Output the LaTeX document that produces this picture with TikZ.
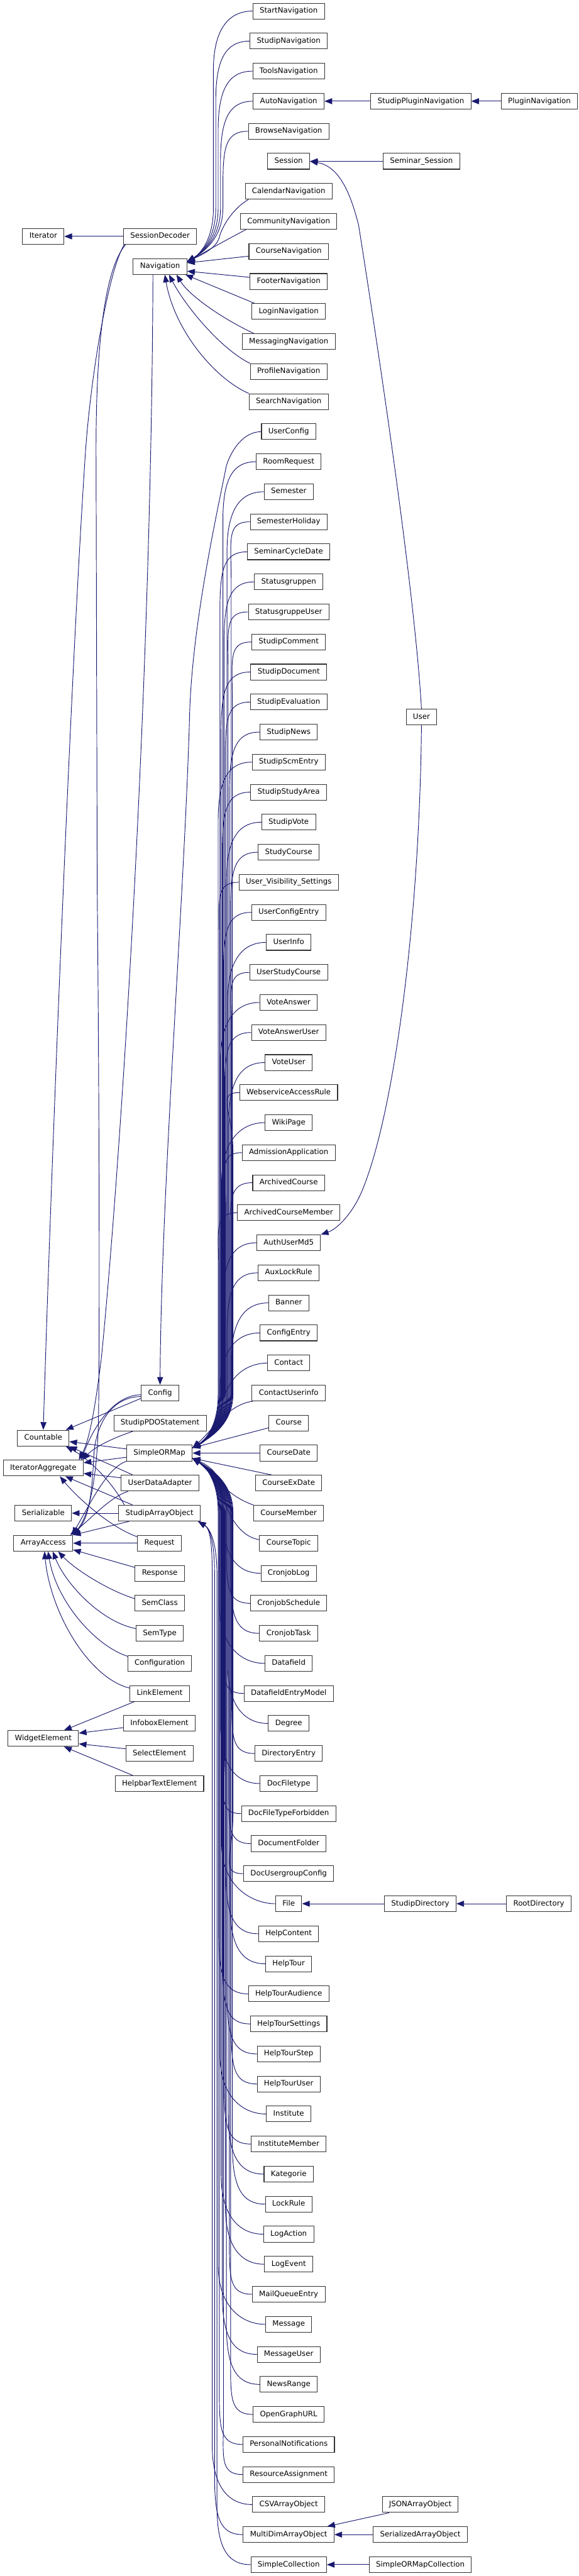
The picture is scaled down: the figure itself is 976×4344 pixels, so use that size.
\documentclass[tikz,border=0pt]{standalone}
\usepackage{fontspec}
\newfontfamily\clsfont{DejaVu Sans}
\usetikzlibrary{arrows.meta,calc}
\definecolor{navy}{HTML}{191970}
\newcommand\rowy[1]{18.7+50.66*(#1-1)}
% bundle edge: child above target
\newcommand\bdown[3]{\draw[inh] let \p1=(#1.west), \p2=(#3) in (\p1) .. controls (\x1-40pt,\y1) and (#2pt,\y1-30pt) .. (#2pt,\y1-100pt) -- (#2pt,\y2+90pt) .. controls (#2pt,\y2+35pt) and (\x2+20pt,\y2+12pt) .. (\p2);}
% bundle edge: child below target
\newcommand\bup[3]{\draw[inh] let \p1=(#1.west), \p2=(#3) in (\p1) .. controls (\x1-40pt,\y1) and (#2pt,\y1+30pt) .. (#2pt,\y1+100pt) -- (#2pt,\y2-90pt) .. controls (#2pt,\y2-35pt) and (\x2+20pt,\y2-12pt) .. (\p2);}
\begin{document}
\begin{tikzpicture}[x=1pt,y=-1pt,
  cls/.style={draw=black!80, line width=1.1pt, fill=white, font=\clsfont\fontsize{12.5}{14}\selectfont,
    inner xsep=11.5pt, inner ysep=0pt, minimum height=26.6pt, text height=9.5pt, text depth=3pt},
  inh/.style={draw=navy, line width=1pt, -{Triangle[length=13pt,width=10pt]}}]
\useasboundingbox (0,0) rectangle (976,4344);

% ---------- middle column ----------
\foreach \nm/\lb [count=\i] in {
StartNavigation/StartNavigation, StudipNavigation/StudipNavigation, ToolsNavigation/ToolsNavigation,
AutoNavigation/AutoNavigation, BrowseNavigation/BrowseNavigation, Session/Session,
CalendarNavigation/CalendarNavigation, CommunityNavigation/CommunityNavigation, CourseNavigation/CourseNavigation,
FooterNavigation/FooterNavigation, LoginNavigation/LoginNavigation, MessagingNavigation/MessagingNavigation,
ProfileNavigation/ProfileNavigation, SearchNavigation/SearchNavigation, UserConfig/UserConfig,
RoomRequest/RoomRequest, Semester/Semester, SemesterHoliday/SemesterHoliday, SeminarCycleDate/SeminarCycleDate,
Statusgruppen/Statusgruppen, StatusgruppeUser/StatusgruppeUser, StudipComment/StudipComment,
StudipDocument/StudipDocument, StudipEvaluation/StudipEvaluation, StudipNews/StudipNews,
StudipScmEntry/StudipScmEntry, StudipStudyArea/StudipStudyArea, StudipVote/StudipVote, StudyCourse/StudyCourse,
UserVisibilitySettings/User\_Visibility\_Settings, UserConfigEntry/UserConfigEntry, UserInfo/UserInfo,
UserStudyCourse/UserStudyCourse, VoteAnswer/VoteAnswer, VoteAnswerUser/VoteAnswerUser, VoteUser/VoteUser,
WebserviceAccessRule/WebserviceAccessRule, WikiPage/WikiPage, AdmissionApplication/AdmissionApplication,
ArchivedCourse/ArchivedCourse, ArchivedCourseMember/ArchivedCourseMember, AuthUserMd5/AuthUserMd5,
AuxLockRule/AuxLockRule, Banner/Banner, ConfigEntry/ConfigEntry, Contact/Contact, ContactUserinfo/ContactUserinfo,
Course/Course, CourseDate/CourseDate, CourseExDate/CourseExDate, CourseMember/CourseMember, CourseTopic/CourseTopic,
CronjobLog/CronjobLog, CronjobSchedule/CronjobSchedule, CronjobTask/CronjobTask, Datafield/Datafield,
DatafieldEntryModel/DatafieldEntryModel, Degree/Degree, DirectoryEntry/DirectoryEntry, DocFiletype/DocFiletype,
DocFileTypeForbidden/DocFileTypeForbidden, DocumentFolder/DocumentFolder, DocUsergroupConfig/DocUsergroupConfig,
File/File, HelpContent/HelpContent, HelpTour/HelpTour, HelpTourAudience/HelpTourAudience,
HelpTourSettings/HelpTourSettings, HelpTourStep/HelpTourStep, HelpTourUser/HelpTourUser, Institute/Institute,
InstituteMember/InstituteMember, Kategorie/Kategorie, LockRule/LockRule, LogAction/LogAction, LogEvent/LogEvent,
MailQueueEntry/MailQueueEntry, Message/Message, MessageUser/MessageUser, NewsRange/NewsRange,
OpenGraphURL/OpenGraphURL, PersonalNotifications/PersonalNotifications, ResourceAssignment/ResourceAssignment,
CSVArrayObject/CSVArrayObject, MultiDimArrayObject/MultiDimArrayObject, SimpleCollection/SimpleCollection}
  {\node[cls] (\nm) at (487,{\rowy{\i}}) {\lb};}

% ---------- right columns ----------
\node[cls] (StudipPluginNavigation) at (710,{\rowy{4}}) {StudipPluginNavigation};
\node[cls] (PluginNavigation) at (910,{\rowy{4}}) {PluginNavigation};
\node[cls] (SeminarSession) at (711,{\rowy{6}}) {Seminar\_Session};
\node[cls] (User) at (711,{\rowy{24.5}}) {User};
\node[cls] (StudipDirectory) at (709,{\rowy{64}}) {StudipDirectory};
\node[cls] (RootDirectory) at (909,{\rowy{64}}) {RootDirectory};
\node[cls] (JSONArrayObject) at (709,{\rowy{84}}) {JSONArrayObject};
\node[cls] (SerializedArrayObject) at (709,{\rowy{85}}) {SerializedArrayObject};
\node[cls] (SimpleORMapCollection) at (709,{\rowy{86}}) {SimpleORMapCollection};

% ---------- left-middle column ----------
\node[cls] (SessionDecoder) at (270,{\rowy{8.5}}) {SessionDecoder};
\node[cls] (Navigation) at (270,{\rowy{9.5}}) {Navigation};
\node[cls] (Config) at (270,{\rowy{47}}) {Config};
\node[cls] (StudipPDOStatement) at (270,{\rowy{48}}) {StudipPDOStatement};
\node[cls] (SimpleORMap) at (269,{\rowy{49}}) {SimpleORMap};
\node[cls] (UserDataAdapter) at (270,{\rowy{50}}) {UserDataAdapter};
\node[cls] (StudipArrayObject) at (269,{\rowy{51}}) {StudipArrayObject};
\node[cls] (Request) at (269,{\rowy{52}}) {Request};
\node[cls] (Response) at (269.5,{\rowy{53}}) {Response};
\node[cls] (SemClass) at (269.5,{\rowy{54}}) {SemClass};
\node[cls] (SemType) at (269.5,{\rowy{55}}) {SemType};
\node[cls] (Configuration) at (269.5,{\rowy{56}}) {Configuration};
\node[cls] (LinkElement) at (269.5,{\rowy{57}}) {LinkElement};
\node[cls] (InfoboxElement) at (269,{\rowy{58}}) {InfoboxElement};
\node[cls] (SelectElement) at (269,{\rowy{59}}) {SelectElement};
\node[cls] (HelpbarTextElement) at (269,{\rowy{60}}) {HelpbarTextElement};

% ---------- left column ----------
\node[cls] (Iterator) at (73,{\rowy{8.5}}) {Iterator};
\node[cls] (Countable) at (73,{\rowy{48.5}}) {Countable};
\node[cls] (IteratorAggregate) at (73,{\rowy{49.5}}) {IteratorAggregate};
\node[cls] (Serializable) at (73,{\rowy{51}}) {Serializable};
\node[cls] (ArrayAccess) at (73,{\rowy{52}}) {ArrayAccess};
\node[cls] (WidgetElement) at (73,{\rowy{58.5}}) {WidgetElement};

% ---------- Navigation children ----------
\bdown{StartNavigation}{360}{$(Navigation.east)+(0,-8)$}
\bdown{StudipNavigation}{364}{$(Navigation.east)+(0,-8)$}
\bdown{ToolsNavigation}{368}{$(Navigation.east)+(0,-8)$}
\bdown{AutoNavigation}{372}{$(Navigation.east)+(0,-8)$}
\bdown{BrowseNavigation}{376}{$(Navigation.east)+(0,-8)$}
\draw[inh] ($(CalendarNavigation.south west)+(6,0)$) .. controls (395,350) and (375,380) .. (370,400) .. controls (365,420) and (335,432) .. ($(Navigation.east)+(0,-8)$);
\draw[inh] ($(CommunityNavigation.south west)+(10,0)$) .. controls (390,400) and (345,425) .. ($(Navigation.east)+(0,-7)$);
\draw[inh] ($(CourseNavigation.west)+(0,8)$) -- ($(Navigation.east)+(0,-6)$);
\draw[inh] ($(FooterNavigation.west)+(0,-7)$) -- ($(Navigation.east)+(0,8)$);
\draw[inh] ($(LoginNavigation.north west)+(5,0)$) -- ($(Navigation.south east)+(-3,0)$);
\draw[inh] ($(MessagingNavigation.north west)+(20,0)$) .. controls (380,540) and (320,500) .. ($(Navigation.south east)+(-18,0)$);
\draw[inh] (ProfileNavigation.north west) .. controls (375,590) and (315,520) .. ($(Navigation.south)+(15,0)$);
\draw[inh] (SearchNavigation.north west) .. controls (365,640) and (295,560) .. ($(Navigation.south)+(8,0)$);

% ---------- right side chains ----------
\draw[inh] (StudipPluginNavigation.west) -- (AutoNavigation.east);
\draw[inh] (PluginNavigation.west) -- (StudipPluginNavigation.east);
\draw[inh] (SeminarSession.west) -- (Session.east);
\draw[inh] (User.north) .. controls (700,1000) and (640,600) .. (605,380) .. controls (590,320) and (570,280) .. (Session.east);
\draw[inh] (User.south) .. controls (708,1550) and (665,1880) .. (610,2010) .. controls (595,2045) and (570,2072) .. (AuthUserMd5.north east);
\draw[inh] (StudipDirectory.west) -- (File.east);
\draw[inh] (RootDirectory.west) -- (StudipDirectory.east);
\draw[inh] ($(JSONArrayObject.south west)+(12,0)$) -- ($(MultiDimArrayObject.north east)+(-12,0)$);
\draw[inh] (SerializedArrayObject.west) -- (MultiDimArrayObject.east);
\draw[inh] (SimpleORMapCollection.west) -- (SimpleCollection.east);

% ---------- UserConfig -> Config ----------
\draw[inh] (UserConfig.west) .. controls (410,728) and (390,760) .. (382,785) .. controls (365,870) and (325,1050) .. (320,1200) .. controls (312,1500) and (272,2000) .. (Config.north);

% ---------- SimpleORMap children ----------
\foreach \nm [count=\k from 16] in {RoomRequest, Semester, SemesterHoliday, SeminarCycleDate, Statusgruppen,
  StatusgruppeUser, StudipComment, StudipDocument, StudipEvaluation, StudipNews, StudipScmEntry, StudipStudyArea,
  StudipVote, StudyCourse, UserVisibilitySettings, UserConfigEntry, UserInfo, UserStudyCourse, VoteAnswer,
  VoteAnswerUser, VoteUser, WebserviceAccessRule, WikiPage, AdmissionApplication, ArchivedCourse,
  ArchivedCourseMember, AuthUserMd5, AuxLockRule, Banner, ConfigEntry}
  {\pgfmathtruncatemacro\xb{368+mod(\k*7,26)}\bdown{\nm}{\xb}{$(SimpleORMap.north east)+(0,5)$}}
\draw[inh] (Contact.west) .. controls (400,2300) and (378,2340) .. (372,2380) .. controls (368,2412) and (345,2432) .. ($(SimpleORMap.north east)+(0,5)$);
\draw[inh] ($(ContactUserinfo.south west)+(2,0)$) .. controls (385,2368) and (358,2412) .. ($(SimpleORMap.north east)+(0,5)$);
\draw[inh] ($(Course.west)+(0,8)$) -- ($(SimpleORMap.north east)+(0,5)$);
\draw[inh] (CourseDate.west) -- (SimpleORMap.east);
\draw[inh] ($(CourseExDate.north west)+(28,0)$) -- ($(SimpleORMap.south east)+(0,-5)$);
\draw[inh] (CourseMember.north west) .. controls (380,2522) and (352,2478) .. ($(SimpleORMap.south east)+(0,-5)$);
\draw[inh] ($(CourseTopic.west)+(0,-6)$) .. controls (395,2590) and (375,2530) .. (372,2505) .. controls (368,2480) and (345,2468) .. ($(SimpleORMap.south east)+(0,-5)$);
\foreach \nm [count=\k from 53] in {CronjobLog, CronjobSchedule, CronjobTask, Datafield, DatafieldEntryModel,
  Degree, DirectoryEntry, DocFiletype, DocFileTypeForbidden, DocumentFolder, DocUsergroupConfig, File,
  HelpContent, HelpTour, HelpTourAudience, HelpTourSettings, HelpTourStep, HelpTourUser, Institute,
  InstituteMember, Kategorie, LockRule, LogAction, LogEvent, MailQueueEntry, Message, MessageUser, NewsRange,
  OpenGraphURL, PersonalNotifications, ResourceAssignment}
  {\pgfmathtruncatemacro\xb{368+mod(\k*7,26)}\bup{\nm}{\xb}{$(SimpleORMap.south east)+(0,-5)$}}

% ---------- StudipArrayObject children ----------
\bup{CSVArrayObject}{358}{$(StudipArrayObject.south east)+(-4,0)$}
\bup{MultiDimArrayObject}{362}{$(StudipArrayObject.south east)+(-4,0)$}
\bup{SimpleCollection}{366}{$(StudipArrayObject.south east)+(-4,0)$}

% ---------- interfaces ----------
\draw[inh] (SessionDecoder.west) -- (Iterator.east);
\draw[inh] ($(SessionDecoder.south west)+(2,0)$) .. controls (185,450) and (152,630) .. (143,780) .. controls (117,1180) and (85,2011) .. (Countable.north);
\draw[inh] ($(SessionDecoder.south west)+(4,0)$) .. controls (180,450) and (162,560) .. (162,760) -- (164,1500) .. controls (168,1900) and (168,2300) .. (166,2400) .. controls (163,2500) and (150,2555) .. (ArrayAccess.north east);
\draw[inh] ($(Navigation.south)+(-12,0)$) .. controls (255,1200) and (200,2000) .. (171,2290) .. controls (160,2380) and (150,2430) .. ($(IteratorAggregate.north east)+(-8,0)$);

\draw[inh] ($(Config.west)+(0,9)$) -- ($(Countable.north east)+(-6,0)$);
\draw[inh] ($(Config.west)+(0,3)$) .. controls (195,2352) and (160,2400) .. ($(IteratorAggregate.north east)+(-4,0)$);
\draw[inh] ($(Config.west)+(0,6)$) .. controls (190,2355) and (160,2400) .. (158,2460) .. controls (155,2520) and (150,2560) .. (ArrayAccess.north east);
\draw[inh] ($(StudipPDOStatement.south west)+(33,0)$) .. controls (190,2425) and (160,2440) .. ($(IteratorAggregate.north east)+(-2,0)$);

\draw[inh] ($(SimpleORMap.west)+(0,-7)$) -- ($(Countable.east)+(0,6)$);
\draw[inh] ($(SimpleORMap.west)+(0,7)$) -- ($(IteratorAggregate.east)+(0,-9)$);
\draw[inh] (SimpleORMap.south west) .. controls (180,2475) and (150,2540) .. ($(ArrayAccess.north east)+(-2,0)$);

\draw[inh] ($(UserDataAdapter.north west)+(20,0)$) -- (Countable.south east);
\draw[inh] ($(UserDataAdapter.west)+(0,-9)$) -- ($(IteratorAggregate.east)+(0,9)$);
\draw[inh] ($(UserDataAdapter.south west)+(12,0)$) .. controls (185,2525) and (155,2560) .. ($(ArrayAccess.north east)+(-5,0)$);

\draw[inh] (StudipArrayObject.west) -- (Serializable.east);
\draw[inh] ($(StudipArrayObject.north west)+(24,0)$) -- ($(IteratorAggregate.south)+(37,0)$);
\draw[inh] ($(StudipArrayObject.north west)+(10,0)$) .. controls (190,2500) and (150,2460) .. ($(Countable.south east)+(-6,0)$);
\draw[inh] ($(StudipArrayObject.south west)+(18,0)$) -- (ArrayAccess.north east);

\draw[inh] (Request.west) -- (ArrayAccess.east);
\draw[inh] ($(Request.north west)+(0,3)$) .. controls (185,2575) and (130,2525) .. ($(IteratorAggregate.south)+(28,0)$);
\draw[inh] ($(Response.north west)+(0,4)$) -- ($(ArrayAccess.east)+(0,11)$);
\draw[inh] ($(SemClass.west)+(0,-8)$) .. controls (190,2685) and (130,2650) .. ($(ArrayAccess.south)+(25,0)$);
\draw[inh] ($(SemType.west)+(0,-8)$) .. controls (170,2735) and (110,2670) .. ($(ArrayAccess.south)+(16,0)$);
\draw[inh] ($(Configuration.west)+(0,-12)$) .. controls (160,2775) and (95,2700) .. ($(ArrayAccess.south)+(8,0)$);
\draw[inh] ($(LinkElement.west)+(0,-9)$) .. controls (150,2830) and (85,2720) .. ($(ArrayAccess.south)+(2,0)$);

\draw[inh] ($(LinkElement.south west)+(8,0)$) -- ($(WidgetElement.north east)+(-25,0)$);
\draw[inh] ($(InfoboxElement.west)+(0,7)$) -- ($(WidgetElement.east)+(0,-9)$);
\draw[inh] ($(SelectElement.west)+(0,-8)$) -- ($(WidgetElement.east)+(0,9)$);
\draw[inh] ($(HelpbarTextElement.north west)+(30,0)$) -- ($(WidgetElement.south east)+(-25,0)$);
\end{tikzpicture}
\end{document}
